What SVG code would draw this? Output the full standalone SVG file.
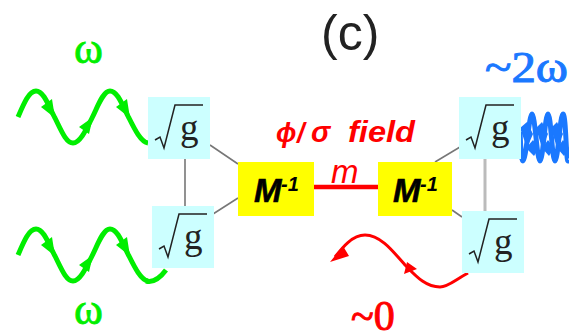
<svg xmlns="http://www.w3.org/2000/svg" width="569" height="334" viewBox="0 0 569 334">
<defs>
<style>
.box{fill:#ccffff}
.m{fill:#ffff00}
.lnk{stroke:#777;stroke-width:1.6;fill:none}
.g{font:37px "Liberation Serif",serif;fill:#222}
.rad{stroke:#222;stroke-width:1.5;fill:none}
.mt{font:italic bold 33px "Liberation Sans",sans-serif;fill:#000;stroke:#000;stroke-width:.6}
.sup{font:italic bold 20px "Liberation Sans",sans-serif;fill:#000}
.gw{stroke:#00ee00;stroke-width:5;fill:none}
.ga{fill:#00ee00}
.om{font:44px "Liberation Serif",serif;fill:#00ee00;stroke:#00ee00;stroke-width:.8}
.fld{font-family:"Liberation Sans",sans-serif;font-style:italic;font-weight:bold;fill:#ff0000}
.bl{fill:#1a78ff}
</style>
<g id="sq"><rect class="box" width="62" height="62"/><path class="rad" d="M7 43l5-3 4 11 11-43h28"/><text class="g" x="32" y="43">g</text></g>
<g id="wave"><path class="gw" d="M18 117C24 103 29 91 36 91C44 91 49 107 55 118C61 130 66 143 73 143C80 143 86 130 92 118C98 106 103 91 110 91C118 91 123 107 129 118C135 130 141 142 148 143"/><path class="ga" d="M55 118L41 107L52 99Z M93 117L79 127L89 134Z M130 118L116 107L127 99Z"/></g>
</defs>
<g id="connectors">
<path class="lnk" d="M210 145L238 164M238 198L213 214M185 158V206M460 147L435 162M452 210L462 217"/>
<path d="M485 158V211" stroke="#bbb" stroke-width="3" fill="none"/>
<path d="M314 187H378" stroke="#ff0000" stroke-width="4.5" fill="none"/>
</g>
<g id="wave-top-left"><use href="#wave"/></g>
<g id="wave-bottom-left"><use href="#wave" y="138"/><path class="gw" d="M146 281C153 283 160 278 166 270"/></g>
<g id="wave-right"><path d="M520 132C521 150 521 161 523 161C526 161 529 114 532 114C535 114 537 161 540 161C543 161 545 114 548 114C551 114 552 161 555 161C558 161 560 114 563 114C566 114 566 161 568 161L569 160" stroke="#1a78ff" stroke-width="5" fill="none"/><path class="bl" d="M520 128l7 -6l6 12l-6 14zM536 128l6 -6l6 12l-6 14zM551 128l6 -6l6 12l-6 14zM526 148l7 -8l6 8l-5 8zM542 148l6 -8l6 8l-5 8zM557 148l6 -8l6 8l-5 8z"/></g>
<g id="wave-red"><path d="M468 273C455 280 448 287 440 287C425 287 415 275 405 265C392 250 380 235 365 235C352 235 342 248 335 257" stroke="#ff0000" stroke-width="3" fill="none"/><path d="M330 262L343 246L349 256Z M407 262L404 274L417 269Z" fill="#ff0000"/></g>
<g id="n1"><use href="#sq" x="148" y="97"/></g>
<g id="n2"><use href="#sq" x="152" y="206"/></g>
<g id="n3"><use href="#sq" x="459" y="97"/></g>
<g id="n4"><use href="#sq" x="462" y="211"/></g>
<g id="m1"><rect class="m" x="238" y="162" width="76" height="54"/><text class="mt" x="254" y="202">M</text><text class="sup" x="281" y="191">-1</text></g>
<g id="m2"><rect class="m" x="378" y="162" width="74" height="54"/><text class="mt" x="393" y="202">M</text><text class="sup" x="420" y="191">-1</text></g>
<text class="om" x="74" y="63">ω</text>
<text class="om" x="74" y="324">ω</text>
<text x="321" y="50" font-family="Liberation Sans,sans-serif" font-size="50" fill="#222">(c)</text>
<text x="485" y="82" font-family="Liberation Serif,serif" font-size="44" fill="#1a78ff" stroke="#1a78ff" stroke-width="1" textLength="83" lengthAdjust="spacingAndGlyphs">~2ω</text>
<text class="fld" x="276" y="142" font-size="27">ϕ</text>
<text class="fld" x="297" y="142" font-size="27">/</text>
<text class="fld" x="311" y="142" font-size="29">σ</text>
<text class="fld" x="348" y="142" font-size="29" textLength="67" lengthAdjust="spacingAndGlyphs">field</text>
<text x="331" y="183" font-family="Liberation Sans,sans-serif" font-size="33" font-style="italic" fill="#ff0000">m</text>
<text x="351" y="330" font-family="Liberation Serif,serif" font-size="42" fill="#ff0000" stroke="#ff0000" stroke-width="1">~0</text>
</svg>
